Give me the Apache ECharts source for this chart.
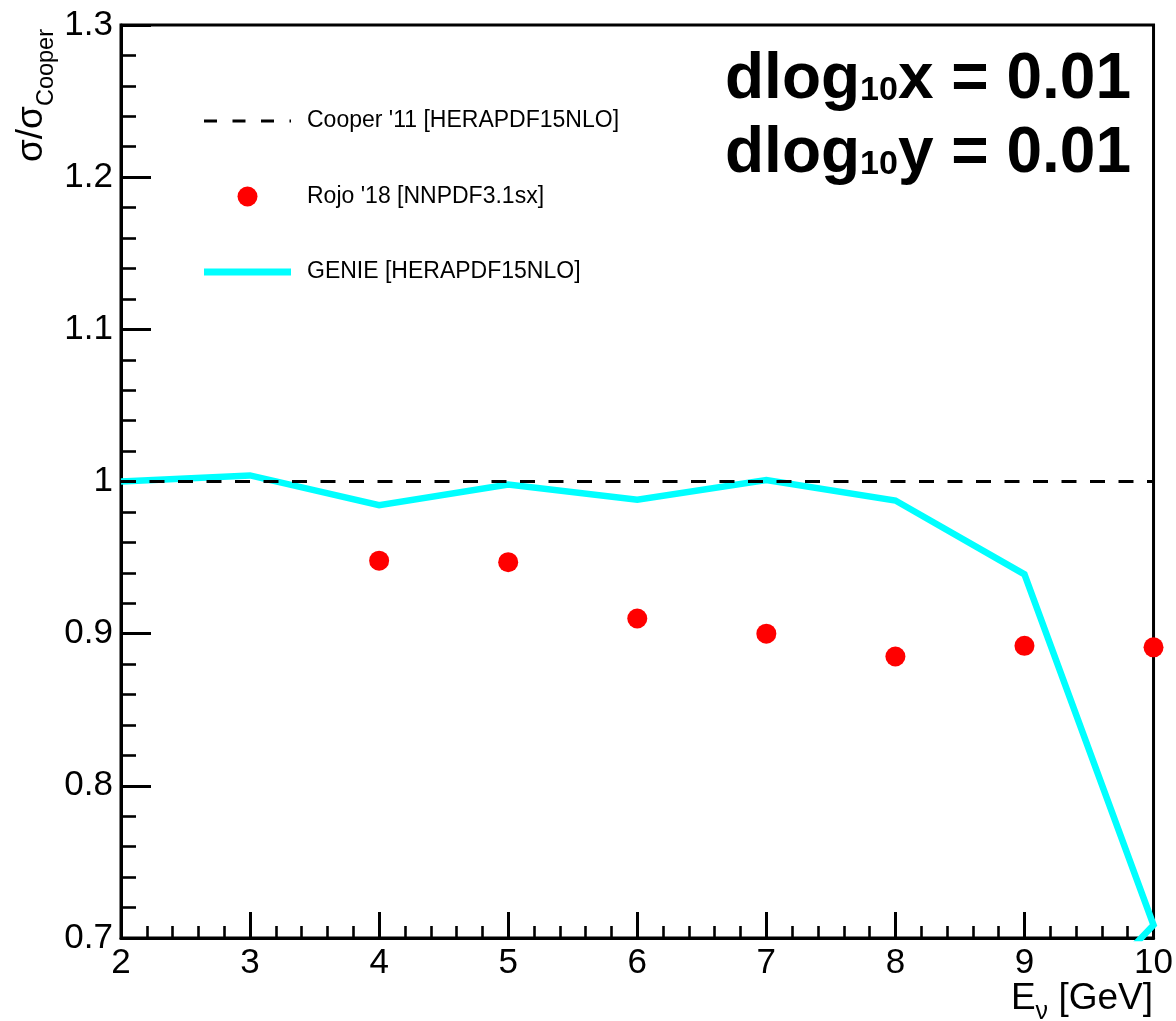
<!DOCTYPE html>
<html>
<head>
<meta charset="utf-8">
<script src="https://cdn.jsdelivr.net/npm/echarts@6/dist/echarts.min.js"></script>
<style>
  html, body { margin: 0; padding: 0; background: #fff; }
  #chart { width: 1176px; height: 1021px; }
</style>
</head>
<body>
<div id="chart"></div>
<script>
// Neutrino energy grid [GeV]
const energies = [2, 3, 4, 5, 6, 7, 8, 9, 10];
// Cooper '11 reference divided by itself
const cooperRatio = [1, 1, 1, 1, 1, 1, 1, 1, 1];
// Rojo '18 [NNPDF3.1sx] ratio, available from 4 GeV upward
const rojoEnergies = [4, 5, 6, 7, 8, 9, 10];
const rojoRatio = [0.948, 0.947, 0.910, 0.900, 0.885, 0.892, 0.891];
// GENIE [HERAPDF15NLO] ratio; the graph carries one trailing unset point (2, 0)
const genieEnergies = [2, 3, 4, 5, 6, 7, 8, 9, 10, 2];
const genieRatio = [1.000, 1.004, 0.9845, 0.998, 0.988, 1.001, 0.9875, 0.939, 0.7085, 0];
// Axis ranges
const xRange = { min: 2, max: 10, step: 1 };
const yRange = { min: 0.7, max: 1.3, step: 0.1 };
// Legend entries
const legendNames = ["Cooper '11 [HERAPDF15NLO]", "Rojo '18 [NNPDF3.1sx]", 'GENIE [HERAPDF15NLO]'];

const FONT = '"Liberation Sans", Arial, Helvetica, sans-serif';
const zip = (xs, ys) => xs.map((x, i) => [x, ys[i]]);

const chart = echarts.init(document.getElementById('chart'), null, { renderer: 'canvas' });

// Legend box: icons from x 204 to 291, rows 75.5 px apart, labels at x 307
const LEG = { x0: 204, x1: 291, y0: 121, dy: 75.5, tx: 307 };
const legendGraphic = [
  {
    type: 'line', silent: true,
    shape: { x1: LEG.x0, y1: LEG.y0, x2: LEG.x1, y2: LEG.y0 },
    style: { stroke: '#000', lineWidth: 3, lineDash: [13, 15.5] }
  },
  {
    type: 'circle', silent: true,
    shape: { cx: (LEG.x0 + LEG.x1) / 2, cy: LEG.y0 + LEG.dy, r: 10 },
    style: { fill: '#ff0000' }
  },
  {
    type: 'line', silent: true,
    shape: { x1: LEG.x0, y1: LEG.y0 + 2 * LEG.dy, x2: LEG.x1, y2: LEG.y0 + 2 * LEG.dy },
    style: { stroke: '#00ffff', lineWidth: 7 }
  }
].concat(legendNames.map((name, i) => ({
  type: 'text', silent: true,
  x: LEG.tx, y: LEG.y0 + i * LEG.dy,
  style: { text: name, fontSize: 23, fontFamily: FONT, fill: '#000', align: 'left', verticalAlign: 'middle' }
})));

chart.setOption({
  animation: false,
  backgroundColor: '#fff',
  grid: {
    left: 121, right: 19, top: 25, bottom: 83,
    show: true, borderColor: '#000', borderWidth: 3, backgroundColor: 'transparent'
  },
  xAxis: {
    type: 'value',
    min: xRange.min, max: xRange.max, interval: xRange.step,
    axisLine: { show: true, onZero: false, lineStyle: { color: '#000', width: 3 } },
    axisTick: { show: true, inside: true, length: 26, lineStyle: { color: '#000', width: 3 } },
    minorTick: { show: true, splitNumber: 5, length: 12, lineStyle: { color: '#000', width: 2.6 } },
    splitLine: { show: false },
    axisLabel: { color: '#000', fontSize: 35, fontFamily: FONT, margin: 8 }
  },
  yAxis: {
    type: 'value',
    min: yRange.min, max: yRange.max, interval: yRange.step,
    axisLine: { show: true, onZero: false, lineStyle: { color: '#000', width: 3 } },
    axisTick: { show: true, inside: true, length: 30, lineStyle: { color: '#000', width: 3 } },
    minorTick: { show: true, splitNumber: 5, length: 15, lineStyle: { color: '#000', width: 2.6 } },
    splitLine: { show: false },
    axisLabel: {
      color: '#000', fontSize: 35, fontFamily: FONT, margin: 8,
      formatter: v => String(+v.toFixed(1))
    }
  },
  series: [
    {
      name: legendNames[2],
      type: 'line',
      data: zip(genieEnergies, genieRatio),
      symbol: 'none',
      clip: true,
      lineStyle: { color: '#00ffff', width: 6.5, cap: 'butt', join: 'miter' },
      itemStyle: { color: '#00ffff' },
      z: 2
    },
    {
      name: legendNames[0],
      type: 'line',
      data: zip(energies, cooperRatio),
      symbol: 'none',
      lineStyle: { color: '#000', width: 3, type: [15, 13.5] },
      itemStyle: { color: '#000' },
      z: 3
    },
    {
      name: legendNames[1],
      type: 'scatter',
      data: zip(rojoEnergies, rojoRatio),
      symbol: 'circle',
      symbolSize: 20,
      itemStyle: { color: '#ff0000', opacity: 1 },
      z: 4
    }
  ],
  graphic: legendGraphic.concat([
    {
      // vertical axis title
      type: 'text', silent: true,
      x: 13, y: 29,
      rotation: Math.PI / 2,
      style: {
        text: '{m|σ/σ}{s|Cooper}',
        align: 'right', verticalAlign: 'top',
        fill: '#000',
        rich: {
          m: { fontSize: 37, lineHeight: 37, fontFamily: FONT, verticalAlign: 'top', fill: '#000' },
          s: { fontSize: 23.5, lineHeight: 23.5, fontFamily: FONT, verticalAlign: 'top', padding: [22, 0, 0, 0], fill: '#000' }
        }
      }
    },
    {
      // horizontal axis title
      type: 'text', silent: true,
      x: 1153, y: 980,
      style: {
        text: '{m|E}{s|ν}{m| [GeV]}',
        align: 'right', verticalAlign: 'top',
        fill: '#000',
        rich: {
          m: { fontSize: 37, lineHeight: 37, fontFamily: FONT, verticalAlign: 'top', fill: '#000' },
          s: { fontSize: 25, lineHeight: 25, fontFamily: FONT, verticalAlign: 'top', padding: [20, 0, 0, 0], fill: '#000' }
        }
      }
    },
    {
      type: 'text', silent: true,
      x: 1131, y: 48.5,
      style: {
        text: '{m|dlog}{s|10}{m|x = 0.01}',
        align: 'right', verticalAlign: 'top',
        fill: '#000',
        rich: {
          m: { fontSize: 64, lineHeight: 64, fontWeight: 'bold', fontFamily: FONT, verticalAlign: 'top', fill: '#000' },
          s: { fontSize: 34, lineHeight: 34, fontWeight: 'bold', fontFamily: FONT, verticalAlign: 'top', padding: [25, 0, 0, 0], fill: '#000' }
        }
      }
    },
    {
      type: 'text', silent: true,
      x: 1131, y: 122.5,
      style: {
        text: '{m|dlog}{s|10}{m|y = 0.01}',
        align: 'right', verticalAlign: 'top',
        fill: '#000',
        rich: {
          m: { fontSize: 64, lineHeight: 64, fontWeight: 'bold', fontFamily: FONT, verticalAlign: 'top', fill: '#000' },
          s: { fontSize: 34, lineHeight: 34, fontWeight: 'bold', fontFamily: FONT, verticalAlign: 'top', padding: [25, 0, 0, 0], fill: '#000' }
        }
      }
    }
  ])
});
</script>
</body>
</html>
